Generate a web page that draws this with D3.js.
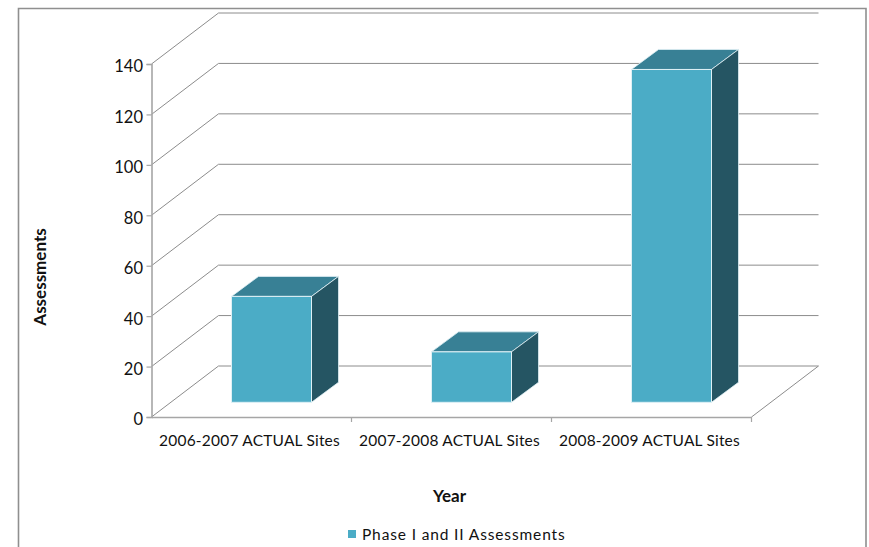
<!DOCTYPE html>
<html>
<head>
<meta charset="utf-8">
<script src="https://cdn.jsdelivr.net/npm/d3@7"></script>
<style>
  html, body { margin: 0; padding: 0; background: #fff; overflow: hidden; }
  svg { display: block; }
  text { font-family: Lato, "Open Sans", sans-serif; fill: #111; }
</style>
</head>
<body>
<svg id="chart" width="869" height="547"></svg>
<script>
(function () {
  "use strict";

  var categories = ["2006-2007 ACTUAL Sites", "2007-2008 ACTUAL Sites", "2008-2009 ACTUAL Sites"];
  var assessments = [42, 20, 132];
  var yTicks = [0, 20, 40, 60, 80, 100, 120, 140];
  var seriesName = "Phase I and II Assessments";

  var LEFT = 151.5, RIGHT = 751.5, BOTTOM = 417, TOP = 64;
  var DEPTH_X = 67, DEPTH_Y = 51;      // 바닥 깊이(사선)
  var BAR_DX = 20, BAR_DY = 14.7;      // 막대 앞면 오프셋
  var BAR_DEPTH_X = 27, BAR_DEPTH_Y = 20;
  var BAR_W = 80;
  var AXIS = "#a6a6a6", GRID = "#8c8c8c";

  var svg = d3.select("#chart");
  var x = d3.scaleBand().domain(categories).range([LEFT, RIGHT]);
  var y = d3.scaleLinear().domain([0, 140]).range([BOTTOM, TOP]);

  // 외곽 테두리 (아래쪽은 잘림)
  svg.append("path").attr("d", "M18.5,547 V8.5 H866 V547")
    .attr("fill", "none").attr("stroke", "#8f8f8f").attr("stroke-width", 1.6);

  // 벽 격자 + 바닥 사선
  var grid = svg.append("g");
  yTicks.forEach(function (t) {
    var py = y(t);
    grid.append("path")
      .attr("d", "M" + LEFT + "," + py + " L" + (LEFT + DEPTH_X) + "," + (py - DEPTH_Y) + " H" + (RIGHT + DEPTH_X))
      .attr("fill", "none").attr("stroke", GRID).attr("stroke-width", 1);
  });
  grid.append("path")
    .attr("d", "M" + RIGHT + "," + BOTTOM + " L" + (RIGHT + DEPTH_X) + "," + (BOTTOM - DEPTH_Y))
    .attr("fill", "none").attr("stroke", GRID).attr("stroke-width", 1);

  // 축
  var yAxis = svg.append("g").attr("transform", "translate(" + LEFT + ",0)")
    .call(d3.axisLeft(y).tickValues(yTicks).tickSize(5).tickPadding(3.5));
  var xAxis = svg.append("g").attr("transform", "translate(0," + BOTTOM + ")")
    .call(d3.axisBottom(x).tickSize(0).tickPadding(18));
  [yAxis, xAxis].forEach(function (a) {
    a.select(".domain").attr("stroke", AXIS).attr("stroke-width", 1.6);
    a.selectAll(".tick line").attr("stroke", AXIS).attr("stroke-width", 1.2);
    a.selectAll("text").style("font-family", "Lato, sans-serif").attr("fill", "#111");
  });
  yAxis.selectAll("text").style("font-size", "16.5px").attr("dy", "0.48em");
  xAxis.selectAll("text").style("font-size", "15.5px").style("letter-spacing", "0.2px").attr("dx", "-2");
  // x 눈금은 범주 경계에
  svg.append("g").selectAll("line").data(categories).enter().append("line")
    .attr("x1", function (c) { return x(c) + x.bandwidth(); })
    .attr("x2", function (c) { return x(c) + x.bandwidth(); })
    .attr("y1", BOTTOM).attr("y2", BOTTOM + 5)
    .attr("stroke", AXIS).attr("stroke-width", 1.2);

  // 3D 막대
  var bars = svg.append("g").selectAll("g").data(categories).enter().append("g");
  bars.each(function (c, i) {
    var sel = d3.select(this);
    var x0 = x(c) + x.bandwidth() / 2 + BAR_DX - BAR_W / 2, x1 = x0 + BAR_W;
    var yb = BOTTOM - BAR_DY, yt = yb - (y(0) - y(assessments[i]));
    var dx = BAR_DEPTH_X, dy = BAR_DEPTH_Y;
    sel.append("path")
      .attr("d", "M" + x0 + "," + yt + " L" + (x0 + dx) + "," + (yt - dy) + " H" + (x1 + dx) + " L" + x1 + "," + yt + " Z")
      .attr("fill", "#388095").attr("stroke", "#dff0f5").attr("stroke-width", 0.8);
    sel.append("path")
      .attr("d", "M" + x1 + "," + yt + " L" + (x1 + dx) + "," + (yt - dy) + " V" + (yb - dy) + " L" + x1 + "," + yb + " Z")
      .attr("fill", "#255563").attr("stroke", "#dff0f5").attr("stroke-width", 0.8);
    sel.append("rect")
      .attr("x", x0).attr("y", yt).attr("width", BAR_W).attr("height", yb - yt)
      .attr("fill", "#4bacc6").attr("stroke", "#dff0f5").attr("stroke-width", 1);
  });

  // 축 제목
  svg.append("text").attr("transform", "translate(45.5,277) rotate(-90)")
    .attr("text-anchor", "middle").style("font-size", "17px").style("font-weight", 700).text("Assessments");
  svg.append("text").attr("x", 449.5).attr("y", 501.5)
    .attr("text-anchor", "middle").style("font-size", "17px").style("font-weight", 700).text("Year");

  // 범례
  svg.append("rect").attr("x", 348).attr("y", 530).attr("width", 8).attr("height", 8).attr("fill", "#4bacc6");
  svg.append("text").attr("x", 362).attr("y", 540)
    .style("font-size", "15.5px").style("letter-spacing", "0.86px").text(seriesName);
})();
</script>
</body>
</html>
